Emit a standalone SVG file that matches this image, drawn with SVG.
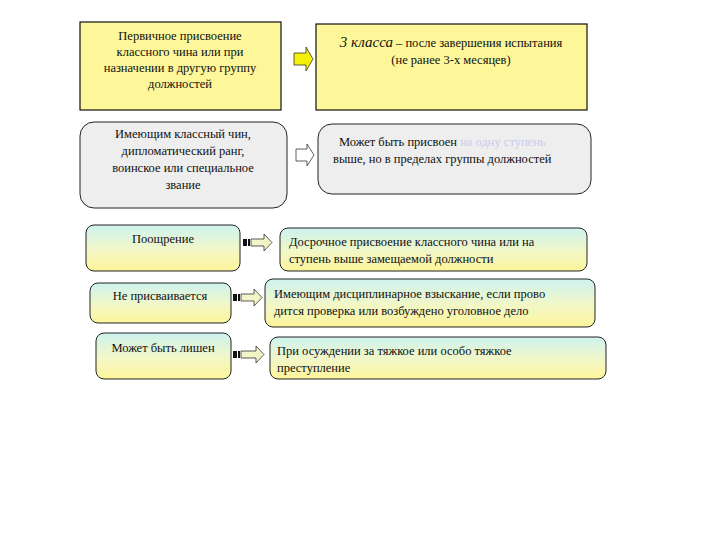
<svg xmlns="http://www.w3.org/2000/svg" width="720" height="540" viewBox="0 0 720 540" font-family="'Liberation Serif','DejaVu Serif',serif">
<style>
text{font-family:"Liberation Serif","DejaVu Serif",serif;font-size:12.5px;fill:#111}
.c{text-anchor:middle}
.yb{fill:#fdf79a;stroke:#111;stroke-width:1.2}
.gb{fill:#eeeeee;stroke:#222;stroke-width:1}
.gr{fill:url(#g);stroke:#222;stroke-width:1}
.arr{fill:#f2f5c8;stroke:#333;stroke-width:0.8}
</style>
<defs>
<linearGradient id="g" x1="0" y1="0" x2="0" y2="1">
<stop offset="0" stop-color="#cdf3f0"/>
<stop offset="0.55" stop-color="#f3f7c6"/>
<stop offset="1" stop-color="#fdf59a"/>
</linearGradient>
</defs>
<rect width="720" height="540" fill="#fff"/>
<g id="n1">
<rect class="yb" x="80" y="22" width="201" height="88"/>
<text class="c" x="180" y="40">Первичное присвоение</text>
<text class="c" x="180" y="56">классного чина или при</text>
<text class="c" x="180" y="72">назначении в другую группу</text>
<text class="c" x="180" y="88">должностей</text>
</g>
<g id="n2">
<rect class="yb" x="316" y="24" width="271" height="86"/>
<text class="c" x="451" y="47"><tspan font-style="italic" font-size="15">3 класса</tspan> – после завершения испытания</text>
<text class="c" x="451" y="64">(не ранее 3-х месяцев)</text>
</g>
<g id="n3">
<rect class="gb" x="80" y="122" width="207" height="86" rx="14"/>
<text class="c" x="183" y="138">Имеющим классный чин,</text>
<text class="c" x="183" y="155">дипломатический ранг,</text>
<text class="c" x="183" y="172">воинское или специальное</text>
<text class="c" x="183" y="189">звание</text>
</g>
<g id="n4">
<rect class="gb" x="318" y="124" width="273" height="70" rx="14"/>
<text x="339" y="146">Может быть присвоен <tspan fill="#c9cbee">на одну ступень</tspan></text>
<text x="333" y="163">выше, но в пределах группы должностей</text>
</g>
<g id="n5">
<rect class="gr" x="86" y="225" width="154" height="46" rx="8"/>
<text class="c" x="163" y="243">Поощрение</text>
</g>
<g id="n6">
<rect class="gr" x="280" y="228" width="307" height="43" rx="8"/>
<text x="289" y="246">Досрочное присвоение классного чина или на</text>
<text x="289" y="263">ступень выше замещаемой должности</text>
</g>
<g id="n7">
<rect class="gr" x="90" y="283" width="141" height="40" rx="8"/>
<text class="c" x="160" y="300">Не присваивается</text>
</g>
<g id="n8">
<rect class="gr" x="265" y="279" width="330" height="48" rx="8"/>
<text x="274" y="298">Имеющим дисциплинарное взыскание, если прово</text>
<text x="274" y="315">дится проверка или возбуждено уголовное дело</text>
</g>
<g id="n9">
<rect class="gr" x="96" y="333" width="135" height="46" rx="8"/>
<text class="c" x="163" y="352">Может быть лишен</text>
</g>
<g id="n10">
<rect class="gr" x="270" y="337" width="336" height="42" rx="8"/>
<text x="277" y="355">При осуждении за тяжкое или особо тяжкое</text>
<text x="277" y="372">преступление</text>
</g>
<g id="connectors">
<path d="M294,53 H306 V47 L313,59 L306,71 V65 H294 Z" fill="#f5f00a" stroke="#333" stroke-width="0.8"/>
<path d="M296,149 H307 V144 L314,155 L307,166 V161 H296 Z" fill="#fff" stroke="#333" stroke-width="0.8"/>
<g>
<rect x="243" y="239" width="4" height="7" fill="#111"/><rect x="248" y="239" width="2" height="7" fill="#111"/>
<path d="M251,239 H264 V234 L272,242.5 L264,251 V246 H251 Z" class="arr"/>
</g>
<g>
<rect x="233" y="294" width="4" height="7" fill="#111"/><rect x="238" y="294" width="2" height="7" fill="#111"/>
<path d="M241,294 H254 V289 L262,297.5 L254,306 V301 H241 Z" class="arr"/>
</g>
<g>
<rect x="233" y="351" width="4" height="7" fill="#111"/><rect x="238" y="351" width="2" height="7" fill="#111"/>
<path d="M241,351 H256 V346 L264,354.5 L256,363 V358 H241 Z" class="arr"/>
</g>
</g>
</svg>
